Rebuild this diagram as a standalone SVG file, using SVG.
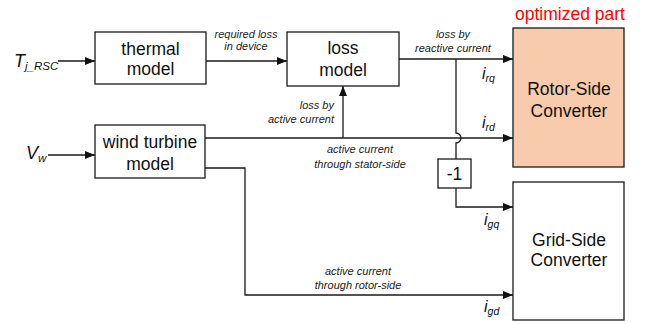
<svg xmlns="http://www.w3.org/2000/svg" width="652" height="324" viewBox="0 0 652 324">
<style>
.box{fill:#fff;stroke:#1a1a1a;stroke-width:1.3}
.rsc{fill:#F8CBAD;stroke:#1a1a1a;stroke-width:1.3}
.t{font-family:"Liberation Sans",Arial,sans-serif;font-size:17.5px;fill:#111;text-anchor:middle}
.lbl{font-family:"Liberation Sans",Arial,sans-serif;font-size:11px;font-style:italic;fill:#222;text-anchor:middle}
.m{font-family:"Liberation Sans",Arial,sans-serif;font-style:italic;fill:#111}
.ln{fill:none;stroke:#1a1a1a;stroke-width:1.3}
.a{marker-end:url(#ah)}
</style>
<defs>
<marker id="ah" viewBox="0 0 10 8" refX="10" refY="4" markerWidth="10" markerHeight="8" markerUnits="userSpaceOnUse" orient="auto">
<path d="M0,0 L10,4 L0,8 Z" fill="#111"/>
</marker>
</defs>
<rect width="652" height="324" fill="#fff"/>
<g id="connectors">
<path class="ln a" d="M58,61 H95"/>
<path class="ln a" d="M206,61 H287"/>
<path class="ln a" d="M399,59 H513"/>
<path class="ln" d="M456,59 V133 A5,5 0 0 1 456,143 V159"/>
<path class="ln a" d="M456,188 V207 H513"/>
<path class="ln a" d="M48,155 H95"/>
<path class="ln a" d="M205,138 H513"/>
<path class="ln a" d="M343,138 V86"/>
<path class="ln a" d="M205,168 H245 V295 H513"/>
</g>
<g id="labels">
<text class="lbl" x="246" y="38">required loss</text>
<text class="lbl" x="246" y="50">in device</text>
<text class="lbl" x="453" y="38">loss by</text>
<text class="lbl" x="453" y="52">reactive current</text>
<text class="lbl" x="334" y="109" style="text-anchor:end">loss by</text>
<text class="lbl" x="334" y="123" style="text-anchor:end">active current</text>
<text class="lbl" x="360" y="153">active current</text>
<text class="lbl" x="360" y="168">through stator-side</text>
<text class="lbl" x="358" y="275">active current</text>
<text class="lbl" x="358" y="289">through rotor-side</text>
<text class="m" x="14" y="67" font-size="18">T<tspan font-size="11.5" dy="3">j_RSC</tspan></text>
<text class="m" x="26" y="159" font-size="18">V<tspan font-size="11.5" dy="3">w</tspan></text>
<text class="m" x="482" y="79" font-size="16">i<tspan font-size="10.5" dy="3">rq</tspan></text>
<text class="m" x="482" y="128" font-size="16">i<tspan font-size="10.5" dy="3">rd</tspan></text>
<text class="m" x="484" y="225" font-size="16">i<tspan font-size="10.5" dy="3">gq</tspan></text>
<text class="m" x="484" y="312" font-size="16">i<tspan font-size="10.5" dy="3">gd</tspan></text>
<text x="570" y="20" font-family="'Liberation Sans',Arial,sans-serif" font-size="17.5" fill="#ff0000" text-anchor="middle">optimized part</text>
</g>
<g id="thermal">
<rect class="box" x="95" y="32" width="111" height="52"/>
<text class="t" x="150.5" y="55">thermal</text>
<text class="t" x="150.5" y="75">model</text>
</g>
<g id="loss">
<rect class="box" x="287" y="32" width="112" height="54"/>
<text class="t" x="343" y="54">loss</text>
<text class="t" x="343" y="76">model</text>
</g>
<g id="wind">
<rect class="box" x="95" y="125" width="110" height="53"/>
<text class="t" x="150" y="148">wind turbine</text>
<text class="t" x="150" y="170">model</text>
</g>
<g id="rsc">
<rect class="rsc" x="513" y="28" width="111" height="139"/>
<text class="t" x="569" y="95">Rotor-Side</text>
<text class="t" x="569" y="117">Converter</text>
</g>
<g id="gsc">
<rect class="box" x="513" y="182" width="111" height="138"/>
<text class="t" x="569" y="246">Grid-Side</text>
<text class="t" x="569" y="266">Converter</text>
</g>
<g id="neg">
<rect class="box" x="438" y="159" width="33" height="29"/>
<text class="t" x="454.5" y="180" font-size="16">-1</text>
</g>
</svg>
